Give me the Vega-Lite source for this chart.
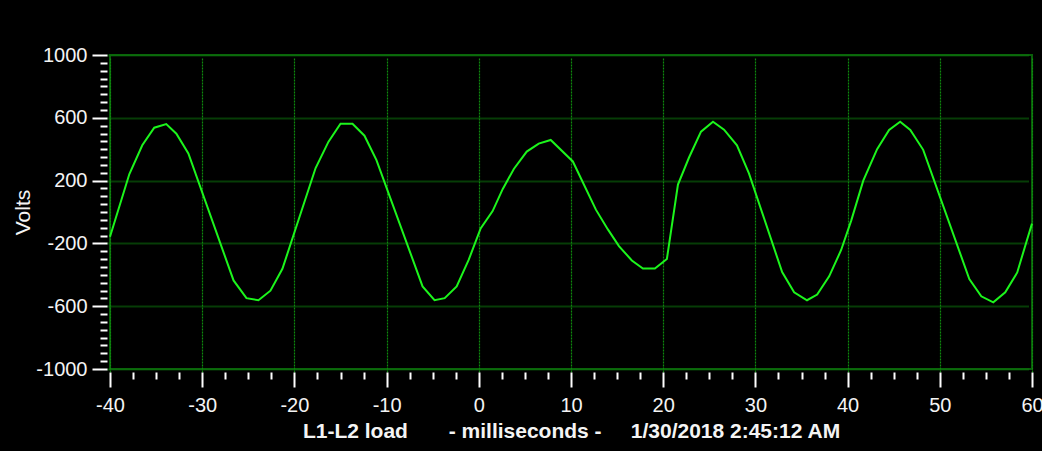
{
  "$schema": "https://vega.github.io/schema/vega-lite/v6.json",
  "autosize": {"type": "none"},
  "padding": {"left": 110, "top": 55, "right": 10, "bottom": 82},
  "width": 922,
  "height": 314,
  "background": "#000000",
  "config": {
    "view": {"stroke": "#0a5f0a", "strokeWidth": 2},
    "axis": {
      "labelFont": "Liberation Sans",
      "labelFontSize": 20,
      "labelColor": "#f4f4f4",
      "titleFont": "Liberation Sans",
      "titleColor": "#f4f4f4",
      "tickColor": "#ffffff",
      "tickWidth": 2,
      "domain": false,
      "offset": 3,
      "labelFlush": false,
      "labelOverlap": false
    }
  },
  "data": {
    "values": [
      {"t": -40.0, "v": -158}, {"t": -37.9, "v": 242}, {"t": -36.5, "v": 425}, {"t": -35.2, "v": 537},
      {"t": -33.9, "v": 560}, {"t": -32.8, "v": 499}, {"t": -31.5, "v": 373}, {"t": -26.6, "v": -436},
      {"t": -25.2, "v": -549}, {"t": -23.9, "v": -562}, {"t": -22.6, "v": -501}, {"t": -21.3, "v": -362},
      {"t": -17.7, "v": 280}, {"t": -16.3, "v": 448}, {"t": -15.0, "v": 562}, {"t": -13.7, "v": 562},
      {"t": -12.4, "v": 486}, {"t": -11.1, "v": 331}, {"t": -6.1, "v": -474}, {"t": -4.8, "v": -562},
      {"t": -3.7, "v": -549}, {"t": -2.4, "v": -474}, {"t": -1.1, "v": -305}, {"t": 0.2, "v": -105},
      {"t": 1.5, "v": 6}, {"t": 2.6, "v": 147}, {"t": 3.8, "v": 274}, {"t": 5.2, "v": 385},
      {"t": 6.5, "v": 436}, {"t": 7.8, "v": 459}, {"t": 10.2, "v": 322}, {"t": 12.7, "v": 15},
      {"t": 14.0, "v": -111}, {"t": 15.2, "v": -217}, {"t": 16.6, "v": -309}, {"t": 17.8, "v": -360},
      {"t": 19.1, "v": -360}, {"t": 20.4, "v": -299}, {"t": 21.6, "v": 175}, {"t": 22.8, "v": 347},
      {"t": 24.1, "v": 512}, {"t": 25.4, "v": 575}, {"t": 26.6, "v": 524}, {"t": 28.0, "v": 425},
      {"t": 29.3, "v": 246}, {"t": 32.9, "v": -383}, {"t": 34.2, "v": -511}, {"t": 35.6, "v": -562},
      {"t": 36.7, "v": -526}, {"t": 38.0, "v": -410}, {"t": 39.3, "v": -242}, {"t": 40.4, "v": -53},
      {"t": 41.7, "v": 200}, {"t": 43.2, "v": 400}, {"t": 44.5, "v": 522}, {"t": 45.7, "v": 575},
      {"t": 46.8, "v": 522}, {"t": 48.2, "v": 396}, {"t": 53.2, "v": -427}, {"t": 54.5, "v": -537},
      {"t": 55.8, "v": -575}, {"t": 57.1, "v": -512}, {"t": 58.4, "v": -385}, {"t": 59.4, "v": -189},
      {"t": 60.0, "v": -74}
    ]
  },
  "resolve": {"axis": {"x": "independent", "y": "independent"}},
  "layer": [
    {
      "mark": {"type": "line", "opacity": 0},
      "encoding": {
        "x": {
          "field": "t", "type": "quantitative",
          "scale": {"domain": [-40, 60], "nice": false, "zero": false},
          "axis": {
            "orient": "bottom",
            "values": [-37.5, -35, -32.5, -27.5, -25, -22.5, -17.5, -15, -12.5, -7.5, -5, -2.5, 2.5, 5, 7.5, 12.5, 15, 17.5, 22.5, 25, 27.5, 32.5, 35, 37.5, 42.5, 45, 47.5, 52.5, 55, 57.5],
            "labels": false, "grid": false, "tickSize": 7, "title": null
          }
        },
        "y": {
          "field": "v", "type": "quantitative",
          "scale": {"domain": [-1000, 1000], "nice": false, "zero": false},
          "axis": {
            "orient": "left",
            "values": [-950, -900, -850, -800, -750, -700, -650, -550, -500, -450, -400, -350, -300, -250, -150, -100, -50, 0, 50, 100, 150, 250, 300, 350, 400, 450, 500, 550, 650, 700, 750, 800, 850, 900, 950],
            "labels": false, "grid": false, "tickSize": 7, "title": null
          }
        }
      }
    },
    {
      "mark": {"type": "line", "color": "#1cf51c", "strokeWidth": 2},
      "encoding": {
        "x": {
          "field": "t", "type": "quantitative",
          "scale": {"domain": [-40, 60], "nice": false, "zero": false},
          "axis": {
            "orient": "bottom",
            "values": [-40, -30, -20, -10, 0, 10, 20, 30, 40, 50, 60],
            "labelExpr": "'' + datum.value",
            "tickSize": 15, "labelPadding": 8,
            "grid": true, "gridColor": "#0e8a0e", "gridDash": [2, 1], "gridWidth": 1.2,
            "title": "L1-L2 load\u00a0\u00a0\u00a0\u00a0\u00a0\u00a0\u00a0- milliseconds -\u00a0\u00a0\u00a0\u00a0\u00a01/30/2018 2:45:12 AM",
            "titleFontSize": 21, "titleFontWeight": "bold", "titlePadding": 5
          }
        },
        "y": {
          "field": "v", "type": "quantitative",
          "scale": {"domain": [-1000, 1000], "nice": false, "zero": false},
          "axis": {
            "orient": "left",
            "values": [-1000, -600, -200, 200, 600, 1000],
            "labelExpr": "'' + datum.value",
            "tickSize": 15, "labelPadding": 5,
            "grid": true, "gridColor": "#0c7a0c", "gridDash": [1, 1], "gridWidth": 2,
            "title": "Volts", "titleFontSize": 21, "titleFontWeight": "normal", "titlePadding": 2
          }
        }
      }
    }
  ]
}
